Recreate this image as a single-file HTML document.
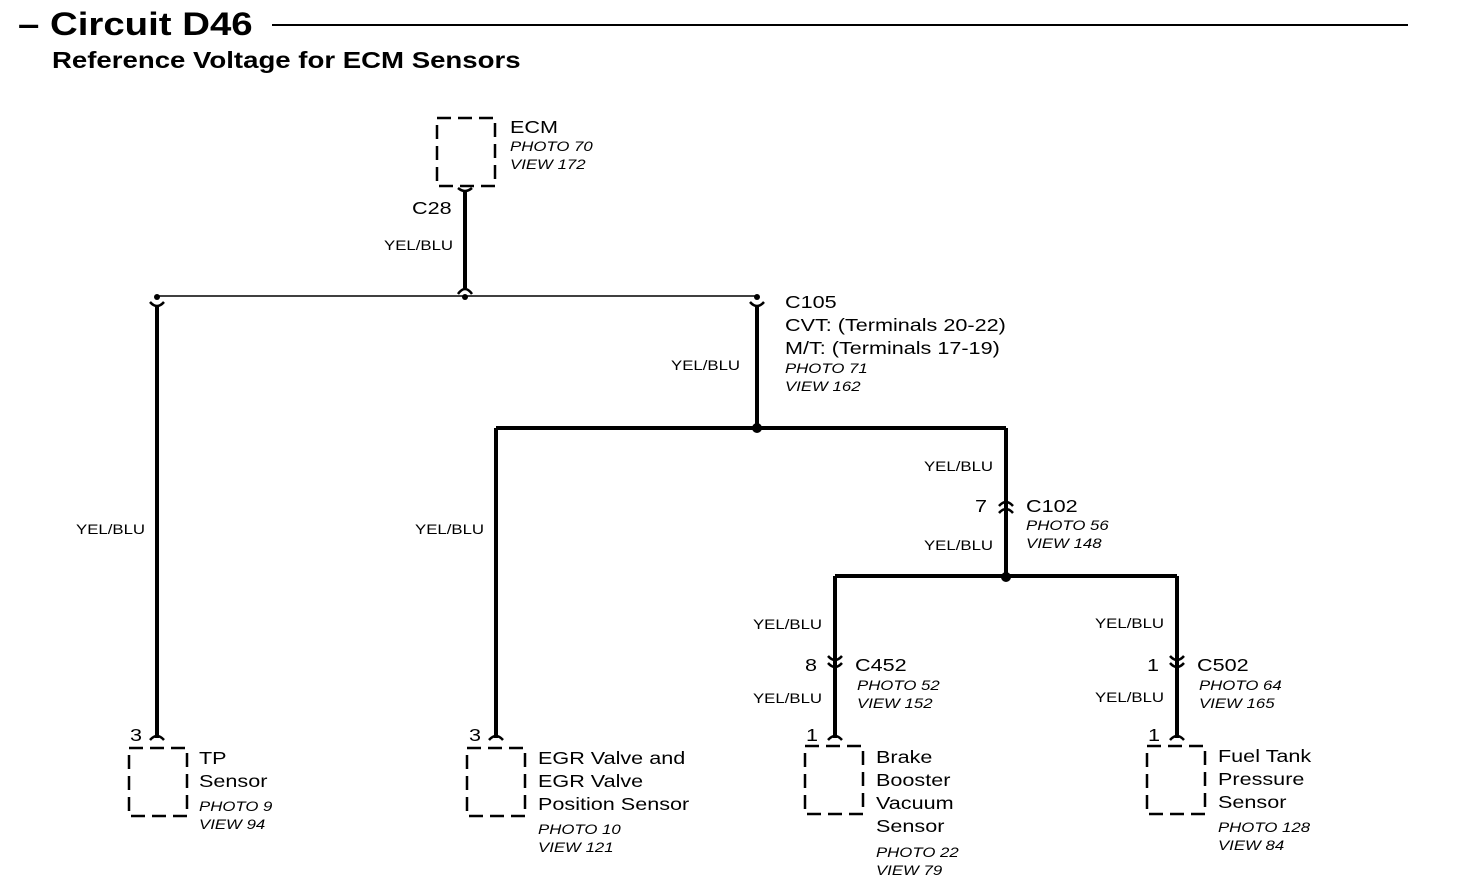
<!DOCTYPE html>
<html><head><style>
body{margin:0;background:#fff}
svg{display:block}
text{font-family:"Liberation Sans",Arial,sans-serif;fill:#000;transform-box:fill-box;transform-origin:0 0;transform:scaleX(1.2)}
.l{font-size:18px}
.i{font-size:14px;font-style:italic}
.w{font-size:14px}
</style></head><body>
<svg width="1472" height="892" viewBox="0 0 1472 892">
<text x="18" y="35" style="font-size:32px;font-weight:bold">– Circuit D46</text>
<line x1="272" y1="25" x2="1408" y2="25" stroke="#000" stroke-width="2"/>
<text x="52" y="68" style="font-size:23px;font-weight:bold">Reference Voltage for ECM Sensors</text>

<g fill="none" stroke="#000" stroke-width="2.5" stroke-dasharray="14,7">
<rect x="437" y="118" width="58" height="68"/>
<rect x="129" y="748" width="58" height="68"/>
<rect x="467" y="748" width="58" height="68"/>
<rect x="805" y="746" width="58" height="68"/>
<rect x="1147" y="746" width="58" height="68"/>
</g>

<g stroke="#000" fill="none">
<line x1="157" y1="296" x2="757" y2="296" stroke-width="1.5"/>
<g stroke-width="4">
<line x1="465" y1="192" x2="465" y2="288"/>
<line x1="157" y1="306" x2="157" y2="738"/>
<line x1="757" y1="306" x2="757" y2="428"/>
<line x1="496" y1="428" x2="1006" y2="428"/>
<line x1="496" y1="428" x2="496" y2="738"/>
<line x1="1006" y1="428" x2="1006" y2="576"/>
<line x1="835" y1="576" x2="1177" y2="576"/>
<line x1="835" y1="576" x2="835" y2="738"/>
<line x1="1177" y1="576" x2="1177" y2="738"/>
</g>
<g stroke-width="2.5">
<path d="M458 188 Q465 194 472 188"/>
<path d="M458 294 Q465 284 472 294"/>
<path d="M150 302 Q157 310 164 302"/>
<path d="M750 302 Q757 310 764 302"/>
<path d="M150 740 Q157 732 164 740"/>
<path d="M489 740 Q496 732 503 740"/>
<path d="M828 740 Q835 732 842 740"/>
<path d="M1170 740 Q1177 732 1184 740"/>
<path d="M999 506 Q1006 498 1013 506"/><path d="M999 513 Q1006 505 1013 513"/>
<path d="M828 656 Q835 664 842 656"/><path d="M828 663 Q835 671 842 663"/>
<path d="M1170 656 Q1177 664 1184 656"/><path d="M1170 663 Q1177 671 1184 663"/>
</g>
</g>
<g fill="#000">
<circle cx="157" cy="297" r="3"/><circle cx="465" cy="297" r="3"/><circle cx="757" cy="297" r="3"/>
<circle cx="757" cy="428" r="5"/><circle cx="1006" cy="577" r="5"/>
</g>

<text class="l" x="510" y="133">ECM</text>
<text class="i" x="510" y="151">PHOTO 70</text>
<text class="i" x="510" y="169">VIEW 172</text>
<text class="l" x="412" y="214">C28</text>
<text class="w" x="384" y="250">YEL/BLU</text>

<text class="l" x="785" y="308">C105</text>
<text class="l" x="785" y="331">CVT: (Terminals 20-22)</text>
<text class="l" x="785" y="354">M/T: (Terminals 17-19)</text>
<text class="i" x="785" y="373">PHOTO 71</text>
<text class="i" x="785" y="391">VIEW 162</text>
<text class="w" x="671" y="370">YEL/BLU</text>

<text class="w" x="76" y="534">YEL/BLU</text>
<text class="w" x="415" y="534">YEL/BLU</text>
<text class="w" x="924" y="471">YEL/BLU</text>
<text class="l" x="975" y="512">7</text>
<text class="l" x="1026" y="512">C102</text>
<text class="i" x="1026" y="530">PHOTO 56</text>
<text class="i" x="1026" y="548">VIEW 148</text>
<text class="w" x="924" y="550">YEL/BLU</text>

<text class="w" x="753" y="629">YEL/BLU</text>
<text class="l" x="805" y="671">8</text>
<text class="l" x="855" y="671">C452</text>
<text class="i" x="857" y="690">PHOTO 52</text>
<text class="i" x="857" y="708">VIEW 152</text>
<text class="w" x="753" y="703">YEL/BLU</text>

<text class="w" x="1095" y="628">YEL/BLU</text>
<text class="l" x="1147" y="671">1</text>
<text class="l" x="1197" y="671">C502</text>
<text class="i" x="1199" y="690">PHOTO 64</text>
<text class="i" x="1199" y="708">VIEW 165</text>
<text class="w" x="1095" y="702">YEL/BLU</text>

<text class="l" x="130" y="741">3</text>
<text class="l" x="199" y="764">TP</text>
<text class="l" x="199" y="787">Sensor</text>
<text class="i" x="199" y="811">PHOTO 9</text>
<text class="i" x="199" y="829">VIEW 94</text>

<text class="l" x="469" y="741">3</text>
<text class="l" x="538" y="764">EGR Valve and</text>
<text class="l" x="538" y="787">EGR Valve</text>
<text class="l" x="538" y="810">Position Sensor</text>
<text class="i" x="538" y="834">PHOTO 10</text>
<text class="i" x="538" y="852">VIEW 121</text>

<text class="l" x="806" y="741">1</text>
<text class="l" x="876" y="763">Brake</text>
<text class="l" x="876" y="786">Booster</text>
<text class="l" x="876" y="809">Vacuum</text>
<text class="l" x="876" y="832">Sensor</text>
<text class="i" x="876" y="857">PHOTO 22</text>
<text class="i" x="876" y="875">VIEW 79</text>

<text class="l" x="1148" y="741">1</text>
<text class="l" x="1218" y="762">Fuel Tank</text>
<text class="l" x="1218" y="785">Pressure</text>
<text class="l" x="1218" y="808">Sensor</text>
<text class="i" x="1218" y="832">PHOTO 128</text>
<text class="i" x="1218" y="850">VIEW 84</text>
</svg>
</body></html>
